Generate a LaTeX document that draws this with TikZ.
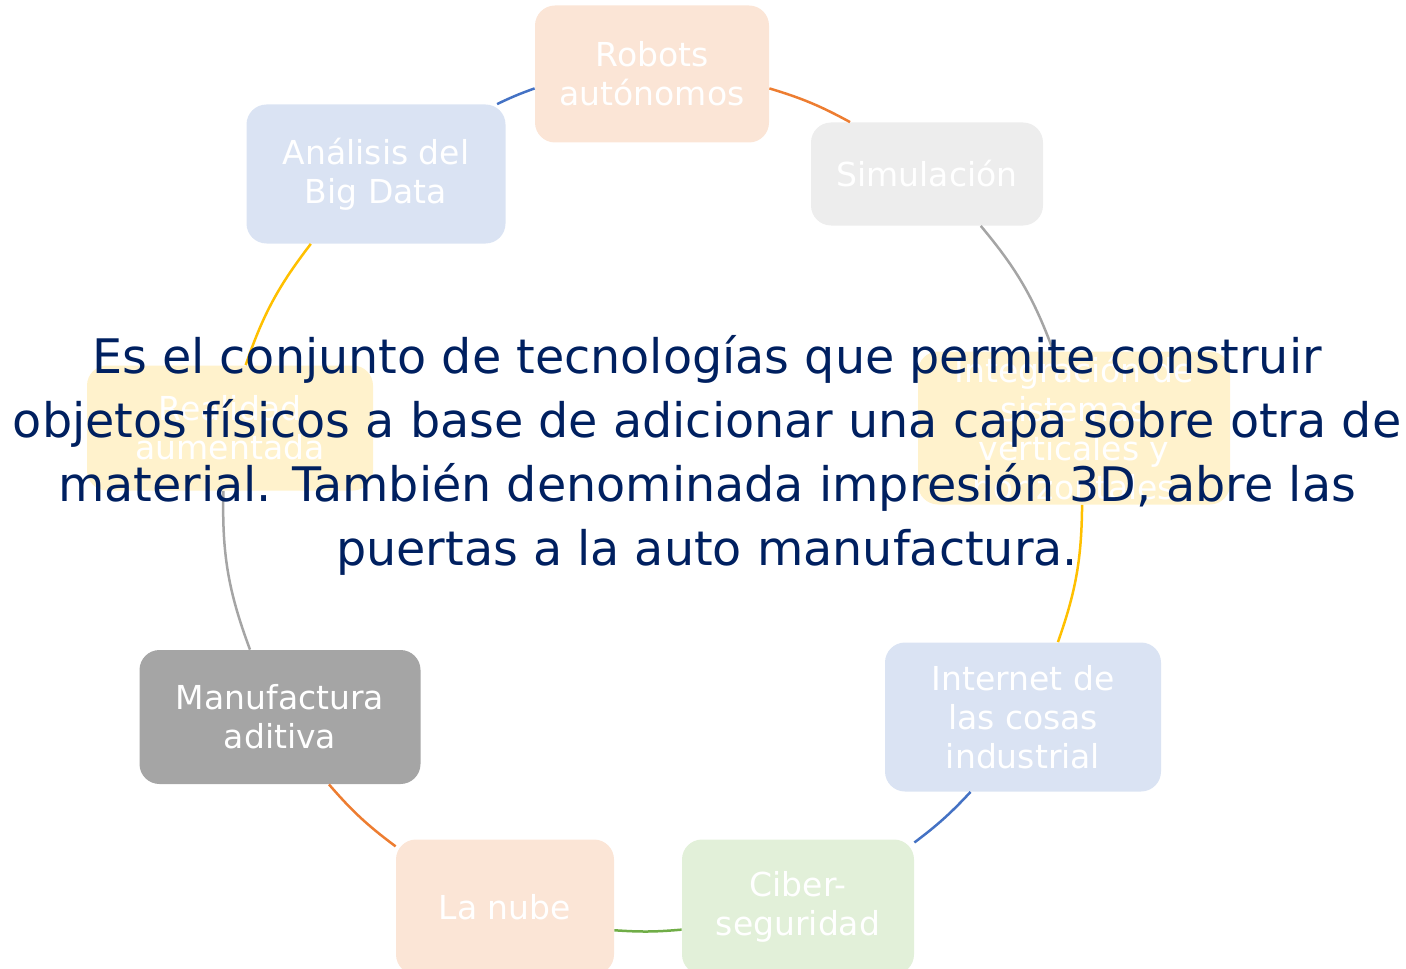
\documentclass[tikz,border=0pt]{standalone}
\usepackage{fontspec}
\setmainfont{DejaVu Sans}
\definecolor{navy}{HTML}{002060}
\definecolor{peach}{HTML}{FBE5D6}
\definecolor{lightgray}{HTML}{EDEDED}
\definecolor{cream}{HTML}{FFF2CC}
\definecolor{paleblue}{HTML}{DAE3F3}
\definecolor{palegreen}{HTML}{E2F0D9}
\definecolor{midgray}{HTML}{A5A5A5}
\definecolor{lnorange}{HTML}{ED7D31}
\definecolor{lngray}{HTML}{A5A5A5}
\definecolor{lngold}{HTML}{FFC000}
\definecolor{lnblue}{HTML}{4472C4}
\definecolor{lngreen}{HTML}{70AD47}

\begin{document}
\begin{tikzpicture}[x=0.5pt, y=0.5pt,
    box/.style = {rounded corners=10pt, text=white, align=center, inner sep=0pt,
                  font=\fontsize{16.5}{19.5}\selectfont},
    link/.style = {line width=1.25pt}]
    \useasboundingbox (0,0) rectangle (1406,-968);
    \node[box, fill=peach, minimum width=117pt, minimum height=68.5pt] (robots) at (652,-74) {Robots\\autónomos};
    \node[box, fill=lightgray, minimum width=116pt, minimum height=51.5pt] (simul) at (927,-174) {Simulación};
    \node[box, fill=cream, minimum width=156pt, minimum height=76.5pt] (integ) at (1074,-428) {Integración de\\sistemas\\verticales y\\horizontales};
    \node[box, fill=paleblue, minimum width=138pt, minimum height=74.5pt] (iot) at (1023,-717) {Internet de\\las cosas\\industrial};
    \node[box, fill=palegreen, minimum width=116pt, minimum height=67.5pt] (ciber) at (798,-907) {Ciber-\\seguridad};
    \node[box, fill=peach, minimum width=109pt, minimum height=67.5pt] (nube) at (505,-907) {La nube};
    \node[box, fill=midgray, minimum width=140.5pt, minimum height=67pt] (manuf) at (280,-717) {Manufactura\\aditiva};
    \node[box, fill=cream, minimum width=143pt, minimum height=62.5pt] (realidad) at (230,-428) {Realidad\\aumentada};
    \node[box, fill=paleblue, minimum width=129.5pt, minimum height=69.5pt] (bigdata) at (376,-174) {Análisis del\\Big Data};
    % arcos del ciclo
    \draw[link, lnorange] (robots.-7.9) to[bend left=5.9] (simul.146.2);
    \draw[link, lngray] (simul.-44.7) to[bend left=9.8] (integ.105.4);
    \draw[link, lngold] (integ.-84.8) to[bend left=9.4] (iot.65);
    \draw[link, lnblue] (iot.-125.7) to[bend left=5] (ciber.29);
    \draw[link, lngreen] (ciber.191.7) to[bend left=4.5] (nube.-12.1);
    \draw[link, lnorange] (nube.151.2) to[bend left=6.2] (manuf.-54.5);
    \draw[link, lngray] (manuf.114.8) to[bend left=10.9] (realidad.-96.4);
    \draw[link, lngold] (realidad.76) to[bend left=9.3] (bigdata.-133.5);
    \draw[link, lnblue] (bigdata.30.7) to[bend left=3] (robots.187.9);
    % texto central
    \node[text=navy, align=center, font=\fontsize{23.8}{32}\selectfont] (desc) at (707,-455)
        {Es el conjunto de tecnologías que permite construir\\
         objetos físicos a base de adicionar una capa sobre otra de\\
         material. También denominada impresión 3D, abre las\\
         puertas a la auto manufactura.};
\end{tikzpicture}
\end{document}
